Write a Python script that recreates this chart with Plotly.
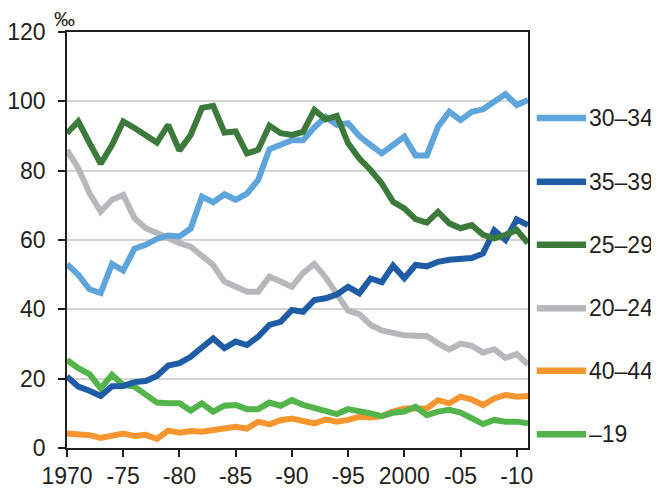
import plotly.graph_objects as go

# Vuodet 1970-2011
years = list(range(1970, 2012))

# Ikäryhmittäiset hedelmällisyysluvut (‰)
age_30_34 = [53.0, 50.0, 45.8, 44.7, 53.1, 51.2, 57.5, 58.6, 60.3, 61.3,
             61.0, 63.3, 72.5, 70.9, 73.2, 71.6, 73.4, 77.3, 86.2, 87.3,
             88.8, 88.8, 92.5, 95.5, 93.2, 93.7, 90.0, 87.4, 85.0, 87.4,
             89.8, 84.4, 84.4, 92.7, 97.0, 94.6, 97.0, 97.7, 99.9, 102.1,
             98.9, 100.4]
age_35_39 = [20.6, 17.7, 16.5, 15.0, 17.8, 17.9, 19.0, 19.3, 20.8, 23.8,
             24.5, 26.3, 29.0, 31.6, 28.8, 30.7, 29.7, 32.1, 35.5, 36.4,
             39.8, 39.3, 42.7, 43.2, 44.3, 46.5, 44.6, 48.9, 47.8, 52.6,
             49.0, 52.8, 52.4, 53.7, 54.3, 54.4, 54.8, 56.1, 62.8, 60.0,
             65.9, 64.3]
age_25_29 = [90.8, 94.2, 88.0, 82.0, 87.4, 94.2, 92.3, 90.3, 88.1, 93.2,
             85.8, 90.3, 98.1, 98.7, 91.0, 91.3, 85.0, 86.0, 93.0, 90.8,
             90.3, 91.2, 97.5, 94.8, 95.8, 87.9, 83.5, 80.2, 76.3, 71.0,
             69.1, 66.0, 65.0, 68.1, 64.8, 63.4, 64.3, 61.5, 60.5, 61.5,
             62.9, 59.1]
age_20_24 = [85.9, 80.7, 73.5, 68.2, 71.6, 73.0, 66.3, 63.4, 62.0, 60.5,
             59.1, 58.1, 55.2, 52.8, 48.0, 46.5, 45.1, 45.1, 49.4, 48.0,
             46.5, 50.5, 53.1, 49.2, 44.4, 39.6, 38.6, 35.5, 33.9, 33.0,
             32.5, 32.4, 32.3, 30.2, 28.4, 30.1, 29.5, 27.5, 28.5, 26.0,
             27.1, 24.1]
age_40_44 = [4.2, 4.0, 3.7, 2.9, 3.5, 4.2, 3.5, 3.8, 2.6, 5.0,
             4.4, 4.9, 4.7, 5.3, 5.9, 6.1, 5.6, 7.6, 6.8, 8.0,
             8.5, 7.9, 7.1, 8.2, 7.6, 8.1, 9.0, 8.8, 9.2, 10.5,
             11.4, 11.4, 11.4, 13.8, 12.9, 14.8, 14.0, 12.4, 14.3, 15.3,
             14.8, 15.0]
age_19 = [25.4, 23.0, 21.3, 17.2, 21.1, 18.2, 17.7, 15.3, 13.1, 12.9,
          12.9, 10.8, 12.9, 10.5, 12.2, 12.4, 11.2, 11.2, 13.1, 12.2,
          13.8, 12.4, 11.4, 10.8, 9.8, 11.2, 10.8, 10.0, 9.2, 10.2,
          10.5, 11.9, 9.5, 10.5, 11.0, 10.2, 8.6, 6.9, 8.1, 7.6,
          7.6, 7.1]

x_tickvals = [1970, 1975, 1980, 1985, 1990, 1995, 2000, 2005, 2010]
x_ticktext = ['1970', '-75', '-80', '-85', '-90', '-95', '2000', '-05', '-10']

# (label, data, colour, label y-position) - drawing order
series = [
    ('40–44', age_40_44, '#f7962f', 22.3),
    ('–19', age_19, '#52b44a', 4.0),
    ('20–24', age_20_24, '#b7b8bb', 40.3),
    ('35–39', age_35_39, '#1f5ca6', 76.8),
    ('30–34', age_30_34, '#5ea5db', 95.2),
    ('25–29', age_25_29, '#3b7a3a', 58.6),
]

font = 'Liberation Sans, Arial, sans-serif'
txt = '#231f20'

fig = go.Figure()
for name, vals, col, _ in series:
    fig.add_trace(go.Scatter(
        x=years, y=vals, mode='lines', name=name,
        line=dict(color=col, width=6),
        cliponaxis=False
    ))

# Selitteet oikealle puolelle
for name, vals, col, ly in series:
    fig.add_shape(type='line', xref='paper', yref='y',
                  x0=1.019, x1=1.126, y0=ly, y1=ly,
                  line=dict(color=col, width=6.5))
    fig.add_annotation(xref='paper', yref='y', x=1.128, y=ly,
                       text=name, showarrow=False, xanchor='left',
                       yanchor='middle',
                       font=dict(size=23, color=txt, family=font))

fig.add_annotation(xref='paper', yref='paper', x=-0.032, y=1.0,
                   text='‰', showarrow=False, xanchor='left',
                   yanchor='bottom', yshift=0,
                   font=dict(size=21, color=txt, family=font))

# sivun oletusmarginaali (8 px) huomioitu koossa ja marginaaleissa
fig.update_layout(
    width=651, height=480,
    margin=dict(l=59, r=131, t=24, b=40),
    paper_bgcolor='white', plot_bgcolor='white',
    showlegend=False,
    font=dict(family=font, size=23, color=txt),
    xaxis=dict(
        range=[1970, 2011], tickvals=x_tickvals, ticktext=x_ticktext,
        showgrid=False, showline=True, linecolor='#231f20', linewidth=1.5,
        mirror=True, ticks='outside', ticklen=7, tickcolor='#231f20',
        tickwidth=1.5, zeroline=False, automargin=False
    ),
    yaxis=dict(
        range=[0, 120], dtick=20, tick0=0,
        showgrid=True, gridcolor='#d4d4d4', gridwidth=1.5,
        showline=True, linecolor='#231f20', linewidth=1.5,
        mirror=True, ticks='outside', ticklen=7, tickcolor='#231f20',
        tickwidth=1.5, zeroline=False, ticklabelstandoff=8,
        automargin=False
    ),
)

fig.write_html("out.html")
